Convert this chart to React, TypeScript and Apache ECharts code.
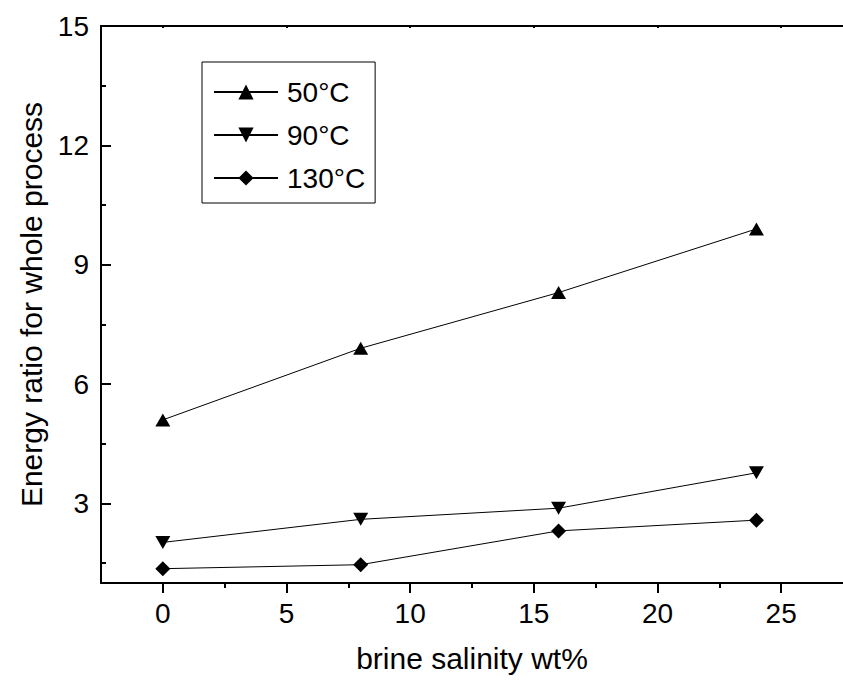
import React, { useEffect, useRef } from "react";
import * as echarts from "echarts";

const salinity = [0, 8, 16, 24];
const ratio50 = [5.1, 6.9, 8.3, 9.9];
const ratio90 = [2.02, 2.6, 2.88, 3.77];
const ratio130 = [1.36, 1.46, 2.31, 2.58];
const seriesNames = ["50°C", "90°C", "130°C"];
const xTicks = [0, 5, 10, 15, 20, 25];
const xMinorTicks = [2.5, 7.5, 12.5, 17.5, 22.5];
const yTicks = [3, 6, 9, 12, 15];
const yMinorTicks = [1.5, 4.5, 7.5, 10.5, 13.5];
const xName = "brine salinity wt%";
const yName = "Energy ratio for whole process";

const FONT = "Arial, 'Liberation Sans', sans-serif";
const FS = 28;
const FN = 30;

export default function App() {
  const ref = useRef<HTMLDivElement>(null);
  useEffect(() => {
    if (!ref.current) return;
    const chart = echarts.init(ref.current, undefined, { renderer: "svg" });
    const mk = (vals: number[]) => salinity.map((x, i) => [x, vals[i]]);
    const lineStyle = { color: "#000", width: 1 };
    chart.setOption({
      animation: false,
      backgroundColor: "#fff",
      grid: { left: 101, right: -3, top: 26, bottom: 100 },
      legend: {
        left: 202,
        top: 62,
        orient: "vertical",
        padding: [16, 10, 11, 11],
        borderColor: "#000",
        borderWidth: 1,
        itemWidth: 64,
        itemHeight: 19,
        itemGap: 15,
        data: seriesNames,
        textStyle: { fontSize: FS, fontFamily: FONT, color: "#000", lineHeight: 28, padding: [0, 0, 0, 4] },
      },
      xAxis: [
        {
          type: "value",
          min: -2.5,
          max: 27.5,
          position: "bottom",
          name: xName,
          nameLocation: "middle",
          nameGap: 60,
          nameTextStyle: { fontSize: FN, fontFamily: FONT, color: "#000" },
          axisLine: { show: true, onZero: false, lineStyle: { color: "#000", width: 2 } },
          axisTick: { show: true, inside: false, length: 10, customValues: xTicks, lineStyle: { color: "#000", width: 2 } },
          axisLabel: { customValues: xTicks, fontSize: FS, fontFamily: FONT, color: "#000", margin: 16 },
          splitLine: { show: false },
        },
        {
          type: "value",
          min: -2.5,
          max: 27.5,
          position: "bottom",
          axisLine: { show: false, onZero: false },
          axisTick: { show: true, inside: false, length: 5, customValues: xMinorTicks, lineStyle: { color: "#000", width: 2 } },
          axisLabel: { show: false },
          splitLine: { show: false },
        },
        {
          type: "value",
          min: -2.5,
          max: 27.5,
          position: "top",
          axisLine: { show: true, onZero: false, lineStyle: { color: "#000", width: 2 } },
          axisTick: { show: true, inside: true, length: 2, customValues: xTicks, lineStyle: { color: "#000", width: 2 } },
          axisLabel: { show: false },
          splitLine: { show: false },
        },
      ],
      yAxis: [
        {
          type: "value",
          min: 1,
          max: 15,
          position: "left",
          name: yName,
          nameLocation: "middle",
          nameGap: 54,
          nameTextStyle: { fontSize: FN, fontFamily: FONT, color: "#000" },
          axisLine: { show: true, onZero: false, lineStyle: { color: "#000", width: 2 } },
          axisTick: { show: true, inside: true, length: 10, customValues: yTicks, lineStyle: { color: "#000", width: 2 } },
          axisLabel: { customValues: yTicks, fontSize: FS, fontFamily: FONT, color: "#000", margin: 12 },
          splitLine: { show: false },
        },
        {
          type: "value",
          min: 1,
          max: 15,
          position: "left",
          axisLine: { show: false, onZero: false },
          axisTick: { show: true, inside: true, length: 5, customValues: yMinorTicks, lineStyle: { color: "#000", width: 2 } },
          axisLabel: { show: false },
          splitLine: { show: false },
        },
      ],
      series: [
        {
          name: seriesNames[0],
          type: "line",
          data: mk(ratio50),
          symbol: "triangle",
          symbolSize: [15, 13],
          itemStyle: { color: "#000" },
          lineStyle,
        },
        {
          name: seriesNames[1],
          type: "line",
          data: mk(ratio90),
          symbol: "triangle",
          symbolRotate: 180,
          symbolSize: [15, 13],
          itemStyle: { color: "#000" },
          lineStyle,
        },
        {
          name: seriesNames[2],
          type: "line",
          data: mk(ratio130),
          symbol: "diamond",
          symbolSize: [15, 15],
          itemStyle: { color: "#000" },
          lineStyle,
        },
      ],
    });
    return () => chart.dispose();
  }, []);
  return (
    <div
      ref={ref}
      style={{ position: "fixed", left: 0, top: 0, width: 843, height: 683, background: "#fff" }}
    />
  );
}
